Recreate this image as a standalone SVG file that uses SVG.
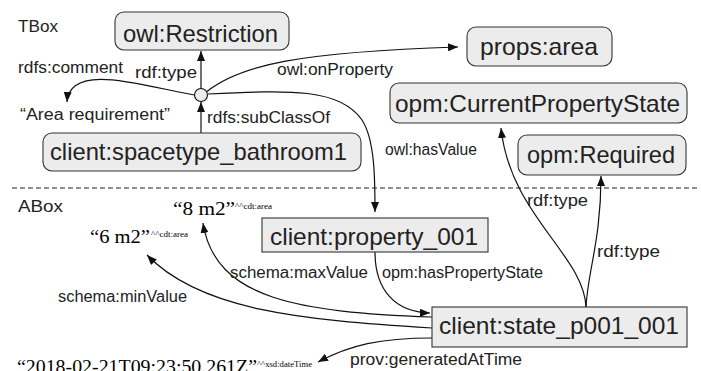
<svg xmlns="http://www.w3.org/2000/svg" width="701" height="371" viewBox="0 0 701 371">
<style>
.n rect{fill:#ececec;stroke:#333;stroke-width:1.1}
.nl{font-family:"Liberation Sans",Arial,sans-serif;font-size:24px;fill:#222}
.el{font-family:"Liberation Sans",Arial,sans-serif;font-size:16px;fill:#222}
.bx{font-family:"Liberation Sans",Arial,sans-serif;font-size:17px;fill:#222}
.lit{font-family:"Liberation Serif","Times New Roman",serif;font-size:19px;fill:#000}
.sup{font-family:"Liberation Serif","Times New Roman",serif;font-size:9px;fill:#000}
.e{fill:none;stroke:#111;stroke-width:1.2;marker-end:url(#ah)}
</style>
<defs>
<marker id="ah" viewBox="0 0 10 8" refX="10" refY="4" markerWidth="10" markerHeight="8" markerUnits="userSpaceOnUse" orient="auto"><path d="M0,0 L10,4 L0,8 z" fill="#111"/></marker>
</defs>
<rect width="701" height="371" fill="#fff"/>
<line x1="12" y1="188" x2="700" y2="188" stroke="#222" stroke-width="1" stroke-dasharray="5,3"/>
<text class="bx" x="18" y="32" textLength="40" lengthAdjust="spacingAndGlyphs">TBox</text>
<text class="bx" x="18" y="212" textLength="45" lengthAdjust="spacingAndGlyphs">ABox</text>

<g id="connectors">
<path class="e" d="M201,88.5 L201,51"/>
<path class="e" d="M201,133 L201,102"/>
<path class="e" d="M194.5,95 C150,88 70,60 67,102"/>
<path class="e" d="M207,91.5 C240,65 300,52 458,47"/>
<path class="e" d="M208,94 C290,90 340,88 362,120 C375,140 375,180 375,212"/>
<path class="e" d="M375,252 C375,290 395,312 430,313"/>
<path class="e" d="M432,317 C300,312 215,300 203,223"/>
<path class="e" d="M432,328 C300,320 200,310 147,255"/>
<path class="e" d="M432,338 C380,338 350,345 318,362"/>
<path class="e" d="M586,307 C584,255 510,215 501,128"/>
<path class="e" d="M586,307 C588,270 601,240 601,176"/>
<text class="el" x="135" y="78" textLength="62" lengthAdjust="spacingAndGlyphs">rdf:type</text>
<text class="el" x="18" y="73" textLength="105" lengthAdjust="spacingAndGlyphs">rdfs:comment</text>
<text class="el" x="277" y="75" textLength="116" lengthAdjust="spacingAndGlyphs">owl:onProperty</text>
<text class="el" x="207" y="123" textLength="123" lengthAdjust="spacingAndGlyphs">rdfs:subClassOf</text>
<text class="el" x="385" y="155" textLength="92" lengthAdjust="spacingAndGlyphs">owl:hasValue</text>
<text class="el" x="230" y="278" textLength="138" lengthAdjust="spacingAndGlyphs">schema:maxValue</text>
<text class="el" x="382" y="278" textLength="161" lengthAdjust="spacingAndGlyphs">opm:hasPropertyState</text>
<text class="el" x="58" y="302" textLength="129" lengthAdjust="spacingAndGlyphs">schema:minValue</text>
<text class="el" x="350" y="365" textLength="172" lengthAdjust="spacingAndGlyphs">prov:generatedAtTime</text>
<text class="el" x="527" y="206" textLength="61" lengthAdjust="spacingAndGlyphs">rdf:type</text>
<text class="el" x="597" y="257" textLength="63" lengthAdjust="spacingAndGlyphs">rdf:type</text>
</g>

<g id="restriction" class="n"><rect x="115" y="12" width="174" height="38" rx="9"/><text class="nl" x="123" y="42" textLength="155" lengthAdjust="spacingAndGlyphs">owl:Restriction</text></g>
<g id="blank"><circle cx="201" cy="95" r="6.5" fill="#ececec" stroke="#111" stroke-width="1.1"/></g>
<g id="props_area" class="n"><rect x="467" y="27" width="145" height="39" rx="9"/><text class="nl" x="480" y="55" textLength="118" lengthAdjust="spacingAndGlyphs">props:area</text></g>
<g id="current_state" class="n"><rect x="390" y="83" width="297" height="40" rx="9"/><text class="nl" x="395" y="112" textLength="285" lengthAdjust="spacingAndGlyphs">opm:CurrentPropertyState</text></g>
<g id="required" class="n"><rect x="518" y="135" width="168" height="40" rx="9"/><text class="nl" x="527" y="163" textLength="148" lengthAdjust="spacingAndGlyphs">opm:Required</text></g>
<g id="bathroom" class="n"><rect x="43" y="133" width="318" height="38" rx="9"/><text class="nl" x="50" y="160" textLength="297" lengthAdjust="spacingAndGlyphs">client:spacetype_bathroom1</text></g>
<g id="comment_lit"><text class="el" x="20" y="120" textLength="150" lengthAdjust="spacingAndGlyphs">“Area requirement”</text></g>
<g id="property" class="n"><rect x="262" y="218" width="226" height="34"/><text class="nl" x="270" y="245" textLength="208" lengthAdjust="spacingAndGlyphs">client:property_001</text></g>
<g id="state" class="n"><rect x="432" y="307" width="255" height="40"/><text class="nl" x="439" y="334" textLength="240" lengthAdjust="spacingAndGlyphs">client:state_p001_001</text></g>
<g id="lit_max"><text class="lit" x="173" y="215" textLength="62" lengthAdjust="spacingAndGlyphs">“8 m2”</text><text class="sup" x="235" y="209" textLength="37" lengthAdjust="spacingAndGlyphs">^^cdt:area</text></g>
<g id="lit_min"><text class="lit" x="90" y="243" textLength="60" lengthAdjust="spacingAndGlyphs">“6 m2”</text><text class="sup" x="151" y="237" textLength="37" lengthAdjust="spacingAndGlyphs">^^cdt:area</text></g>
<g id="lit_time"><text class="lit" x="17" y="373" textLength="240" lengthAdjust="spacingAndGlyphs">“2018-02-21T09:23:50.261Z”</text><text class="sup" x="257" y="367" textLength="55" lengthAdjust="spacingAndGlyphs">^^xsd:dateTime</text></g>
</svg>
